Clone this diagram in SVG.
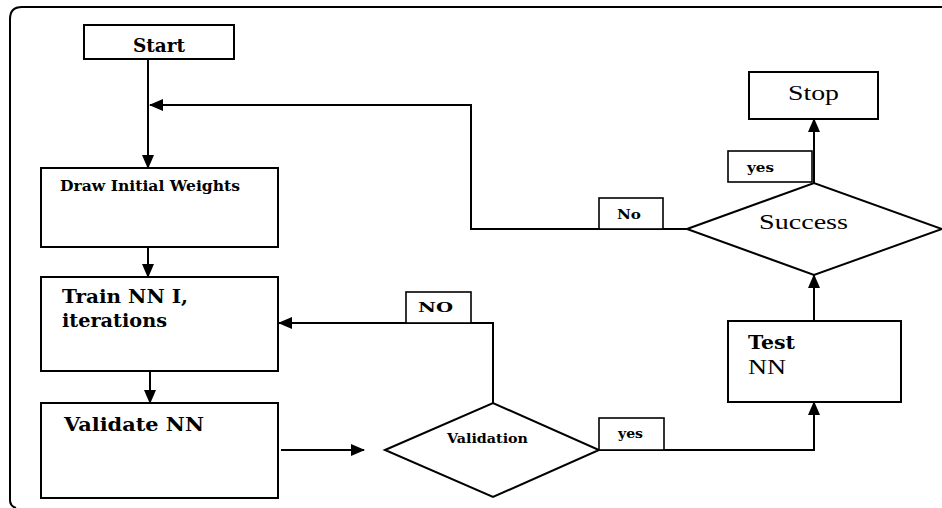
<svg xmlns="http://www.w3.org/2000/svg" width="942" height="508" viewBox="0 0 942 508">
<style>
.box{fill:#fff;stroke:#000;stroke-width:2}
.lbl{fill:#fff;stroke:#000;stroke-width:1.6}
.ln{fill:none;stroke:#000;stroke-width:2}
.t{font-family:"DejaVu Serif","Liberation Serif",serif;font-weight:bold;fill:#000}
.r{font-family:"Liberation Serif","DejaVu Serif",serif;font-weight:normal;fill:#000}
</style>
<defs>
<marker id="ah" markerUnits="userSpaceOnUse" markerWidth="14" markerHeight="12" viewBox="0 0 14 12" refX="13" refY="6" orient="auto">
<path d="M0 0 L14 6 L0 12 Z" fill="#000"/>
</marker>
</defs>
<rect width="942" height="508" fill="#fff"/>
<path class="ln" d="M942 7 H22 Q10 7 10 19 V500 Q10 506 16 508" stroke-width="2.5"/>
<g id="connectors">
<path class="ln" d="M148 59 V168" marker-end="url(#ah)"/>
<path class="ln" d="M148 247 V277" marker-end="url(#ah)"/>
<path class="ln" d="M150 371 V403" marker-end="url(#ah)"/>
<path class="ln" d="M281 450 H364" marker-end="url(#ah)"/>
<path class="ln" d="M493 403 V323 H279" marker-end="url(#ah)"/>
<path class="ln" d="M599 450 H814 V402" marker-end="url(#ah)"/>
<path class="ln" d="M814 321 V275" marker-end="url(#ah)"/>
<path class="ln" d="M814 183 V119" marker-end="url(#ah)"/>
<path class="ln" d="M687 229 H471 V105 H150" marker-end="url(#ah)"/>
</g>
<g id="start">
<rect class="box" x="84" y="25" width="150" height="34"/>
<text class="t" x="133" y="52" font-size="18" textLength="52" lengthAdjust="spacingAndGlyphs">Start</text>
</g>
<g id="draw">
<rect class="box" x="41" y="168" width="237" height="79"/>
<text class="t" x="60" y="191" font-size="14" textLength="180" lengthAdjust="spacingAndGlyphs">Draw Initial Weights</text>
</g>
<g id="train">
<rect class="box" x="41" y="277" width="237" height="94"/>
<text class="t" x="62" y="303" font-size="18" textLength="126" lengthAdjust="spacingAndGlyphs">Train NN I,</text>
<text class="t" x="62" y="327" font-size="18" textLength="105" lengthAdjust="spacingAndGlyphs">iterations</text>
</g>
<g id="validate">
<rect class="box" x="41" y="403" width="237" height="95"/>
<text class="t" x="64" y="431" font-size="18" textLength="140" lengthAdjust="spacingAndGlyphs">Validate NN</text>
</g>
<g id="validation">
<path class="box" d="M385 450 L493 403 L599 450 L493 497 Z"/>
<text class="t" x="447" y="443" font-size="13" textLength="81" lengthAdjust="spacingAndGlyphs">Validation</text>
</g>
<g id="label-no-validation">
<rect class="lbl" x="406" y="292" width="65" height="31"/>
<text class="t" x="418" y="312" font-size="13" textLength="35" lengthAdjust="spacingAndGlyphs">NO</text>
</g>
<g id="label-yes-validation">
<rect class="lbl" x="599" y="418" width="65" height="32"/>
<text class="t" x="618" y="438" font-size="12" textLength="25" lengthAdjust="spacingAndGlyphs">yes</text>
</g>
<g id="test">
<rect class="box" x="728" y="321" width="173" height="81"/>
<text class="t" x="748" y="349" font-size="19" textLength="47" lengthAdjust="spacingAndGlyphs">Test</text>
<text class="r" x="748" y="374" font-size="21" textLength="38" lengthAdjust="spacingAndGlyphs">NN</text>
</g>
<g id="success">
<path class="box" d="M687 229 L814 183 L942 229 L814 275 Z"/>
<text class="r" x="759" y="229" font-size="21" textLength="89" lengthAdjust="spacingAndGlyphs">Success</text>
</g>
<g id="label-no-success">
<rect class="lbl" x="599" y="198" width="64" height="31"/>
<text class="t" x="617" y="219" font-size="12" textLength="24" lengthAdjust="spacingAndGlyphs">No</text>
</g>
<g id="label-yes-success">
<rect class="lbl" x="728" y="151" width="84" height="31"/>
<text class="t" x="747" y="172" font-size="12" textLength="27" lengthAdjust="spacingAndGlyphs">yes</text>
</g>
<g id="stop">
<rect class="box" x="749" y="72" width="129" height="47"/>
<text class="r" x="788" y="100" font-size="20" textLength="51" lengthAdjust="spacingAndGlyphs">Stop</text>
</g>
</svg>
